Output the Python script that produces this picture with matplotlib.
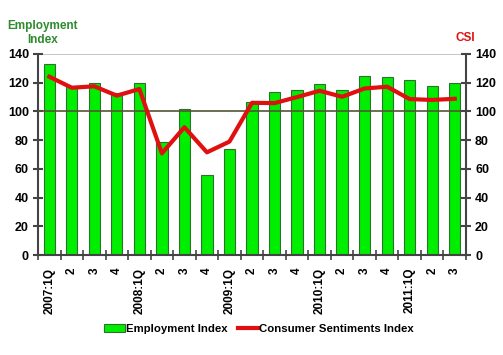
import matplotlib
matplotlib.use("Agg")
import matplotlib.pyplot as plt
import numpy as np

plt.rcParams['font.family'] = ['Liberation Sans', 'DejaVu Sans']
plt.rcParams['font.weight'] = 'bold'

quarters = ["2007:1Q", "2", "3", "4", "2008:1Q", "2", "3", "4", "2009:1Q", "2", "3", "4",
            "2010:1Q", "2", "3", "4", "2011:1Q", "2", "3"]
employment = [132.8, 118, 120, 113, 119.5, 78.5, 101.7, 56, 73.8, 106.5, 113.3, 114.9,
              118.8, 114.9, 125, 124, 121.9, 117.7, 119.8]
csi = [124.2, 116.5, 117.5, 111, 115.6, 70.8, 89, 71.5, 79, 106, 105.8, 110, 114.4,
       110.2, 116, 117.2, 108.6, 108, 108.8]
yticks = [0, 20, 40, 60, 80, 100, 120, 140]

W, H = 503, 355
fig = plt.figure(figsize=(W / 100, H / 100), dpi=100)
ax = fig.add_axes([38 / W, 1 - 255 / H, (466 - 38) / W, (255 - 54) / H])
x = np.arange(len(quarters))

ax.bar(x, employment, width=0.5, color='#00ee00', edgecolor='#2f6f2f', linewidth=0.8,
       label='Employment Index', zorder=2)
ax.axhline(100, color='#555533', linewidth=1.2, zorder=3)
ax.axhline(140, color='#bbbbbb', linewidth=1.2, zorder=1)

ax2 = ax.twinx()
ax2.plot(x, csi, color='#e01010', linewidth=3, label='Consumer Sentiments Index', zorder=4)

for a in (ax, ax2):
    a.set_ylim(0, 140)
    a.set_yticks(yticks)
    a.set_xlim(-0.5, len(quarters) - 0.5)
    for s in a.spines.values():
        s.set_visible(False)
ax.spines['left'].set_visible(True)
ax.spines['bottom'].set_visible(True)
ax2.spines['right'].set_visible(True)
for s in (ax.spines['left'], ax.spines['bottom'], ax2.spines['right']):
    s.set_color('#444444')
    s.set_linewidth(1.5)

ax.tick_params(axis='y', direction='inout', length=7, width=1.5, color='#444444',
               labelsize=9, pad=3)
ax2.tick_params(axis='y', direction='inout', length=7, width=1.5, color='#444444',
                labelsize=9, pad=3)
for lab in ax.get_yticklabels() + ax2.get_yticklabels():
    lab.set_fontweight('bold')

ax.set_xticks(np.arange(len(quarters) + 1) - 0.5, minor=False)
ax.set_xticklabels([])
ax.tick_params(axis='x', which='major', direction='inout', length=7, width=1.2, color='#444444')
ax.set_xticks(x, minor=True)
ax.set_xticklabels(quarters, minor=True, rotation=90, fontsize=8.5, fontweight='bold')
ax.tick_params(axis='x', which='minor', length=0, pad=9)

fig.text(43 / W, 1 - 33 / H, "Employment\nIndex", color='#2e8b2e', fontsize=8.5,
         fontweight='bold', ha='center', va='center', linespacing=1.15)
fig.text(465 / W, 1 - 38 / H, "CSI", color='#e01010', fontsize=8.5,
         fontweight='bold', ha='center', va='center')

h1, l1 = ax.get_legend_handles_labels()
h2, l2 = ax2.get_legend_handles_labels()
fig.legend(h1 + h2, l1 + l2, loc='center', bbox_to_anchor=(259 / W, 1 - 329 / H), ncol=2,
           frameon=False, prop={'weight': 'bold', 'size': 8.2}, handlelength=1.8,
           handletextpad=0.1, columnspacing=0.9)

fig.savefig("out.png", dpi=100)
